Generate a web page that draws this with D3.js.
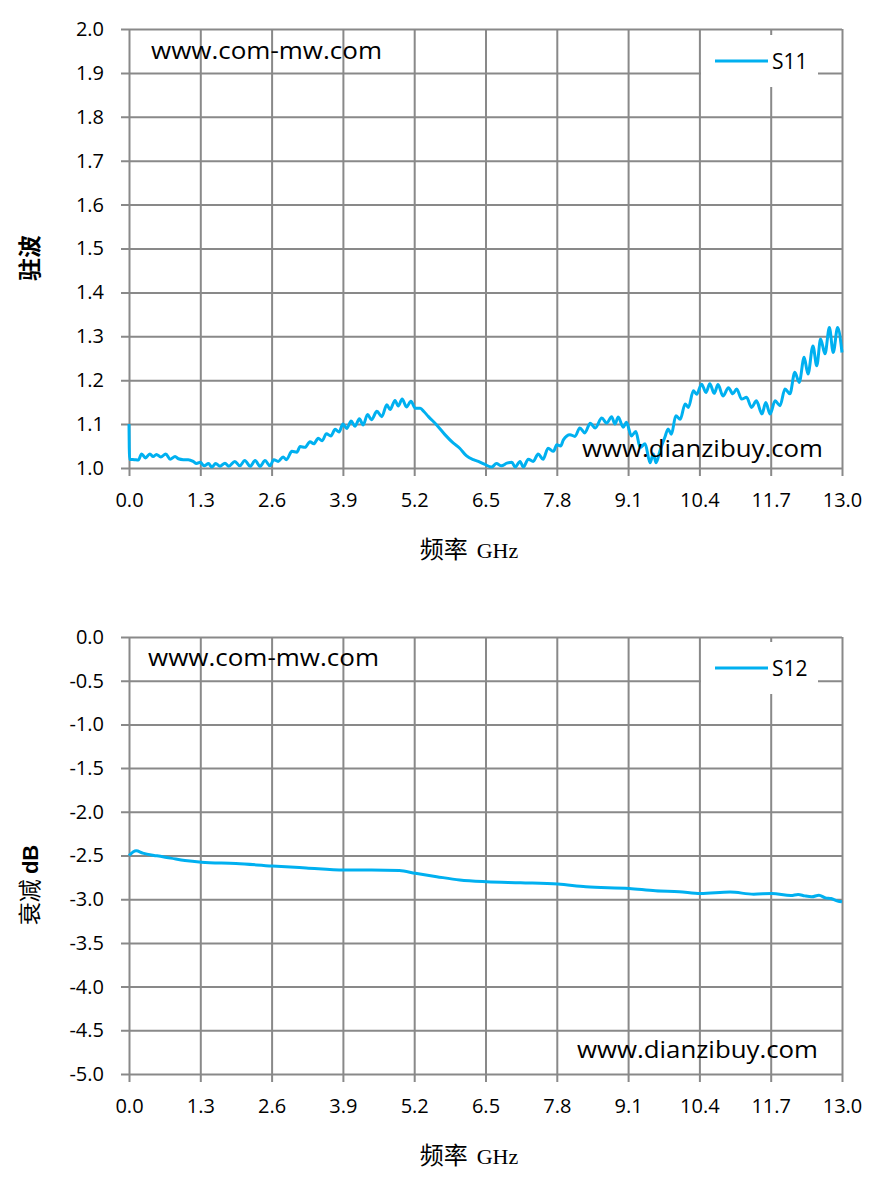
<!DOCTYPE html>
<html>
<head>
<meta charset="utf-8">
<script src="https://cdn.jsdelivr.net/npm/d3@7"></script>
<style>
  body { margin: 0; background: #fff; }
  svg { display: block; }
</style>
</head>
<body>
<div id="chart"></div>
<script>
// x tick labels shared by both panels
const xTicks = [0.0, 1.3, 2.6, 3.9, 5.2, 6.5, 7.8, 9.1, 10.4, 11.7, 13.0];

// S11 (VSWR)
const s11Freq = [0.00, 0.01, 0.10, 0.17, 0.23, 0.30, 0.38, 0.44, 0.50, 0.58, 0.67, 0.75, 0.84, 0.90, 0.99,
  1.08, 1.17, 1.23, 1.30, 1.37, 1.45, 1.51, 1.58, 1.66, 1.75, 1.82, 1.93, 2.02, 2.11, 2.21, 2.30, 2.39,
  2.48, 2.57, 2.64, 2.72, 2.81, 2.87, 2.97, 3.06, 3.12, 3.21, 3.30, 3.37, 3.45, 3.52, 3.60, 3.68, 3.76,
  3.83, 3.90, 3.97, 4.05, 4.12, 4.20, 4.27, 4.35, 4.42, 4.52, 4.61, 4.70, 4.76, 4.85, 4.91, 4.98, 5.06,
  5.14, 5.22, 5.31, 5.38, 5.46, 5.61, 5.76, 5.91, 6.03, 6.15, 6.28, 6.37, 6.49, 6.61, 6.70, 6.79, 6.89,
  6.98, 7.04, 7.13, 7.19, 7.28, 7.37, 7.46, 7.55, 7.64, 7.74, 7.80, 7.87, 7.92, 8.04, 8.13, 8.22, 8.31,
  8.41, 8.50, 8.62, 8.71, 8.80, 8.86, 8.92, 9.01, 9.07, 9.16, 9.24, 9.32, 9.41, 9.50, 9.56, 9.61, 9.68,
  9.77, 9.83, 9.89, 9.97, 10.05, 10.14, 10.20, 10.29, 10.35, 10.44, 10.52, 10.59, 10.67, 10.74, 10.83,
  10.93, 11.01, 11.08, 11.17, 11.26, 11.35, 11.44, 11.54, 11.61, 11.69, 11.78, 11.87, 11.96, 12.05,
  12.14, 12.22, 12.31, 12.38, 12.47, 12.54, 12.61, 12.69, 12.77, 12.84, 12.92, 13.00];
const s11Vswr = [1.100, 1.020, 1.019, 1.018, 1.032, 1.023, 1.032, 1.026, 1.031, 1.025, 1.032, 1.020, 1.026, 1.021, 1.019,
  1.019, 1.015, 1.010, 1.013, 1.005, 1.010, 1.002, 1.010, 1.004, 1.011, 1.004, 1.015, 1.005, 1.017, 1.004, 1.017, 1.004,
  1.017, 1.005, 1.019, 1.015, 1.025, 1.019, 1.038, 1.036, 1.049, 1.047, 1.060, 1.055, 1.068, 1.062, 1.078, 1.073, 1.088,
  1.082, 1.100, 1.090, 1.107, 1.095, 1.112, 1.098, 1.122, 1.110, 1.129, 1.117, 1.144, 1.133, 1.154, 1.141, 1.157, 1.139,
  1.152, 1.136, 1.136, 1.128, 1.117, 1.098, 1.076, 1.057, 1.045, 1.028, 1.019, 1.015, 1.008, 1.002, 1.010, 1.005, 1.011,
  1.013, 1.002, 1.015, 1.002, 1.020, 1.015, 1.032, 1.020, 1.045, 1.038, 1.053, 1.050, 1.064, 1.076, 1.072, 1.091, 1.080,
  1.102, 1.091, 1.114, 1.102, 1.117, 1.100, 1.116, 1.093, 1.104, 1.073, 1.083, 1.047, 1.055, 1.012, 1.032, 1.012, 1.039,
  1.070, 1.089, 1.077, 1.119, 1.111, 1.146, 1.138, 1.176, 1.168, 1.191, 1.172, 1.192, 1.170, 1.190, 1.164,
  1.183, 1.169, 1.180, 1.157, 1.161, 1.138, 1.153, 1.123, 1.149, 1.123, 1.153, 1.142, 1.180, 1.169,
  1.218, 1.195, 1.252, 1.214, 1.278, 1.233, 1.294, 1.260, 1.320, 1.263, 1.320, 1.263];

// S12 (insertion loss, dB)
const s12Freq = [0.00, 0.13, 0.25, 0.51, 0.76, 1.02, 1.32, 1.95, 2.61, 3.23, 3.92, 4.42, 4.93, 5.22, 5.61,
  6.03, 6.52, 7.14, 7.82, 8.33, 9.12, 9.60, 10.03, 10.42, 10.96, 11.39, 11.72, 12.07, 12.20, 12.32, 12.45,
  12.58, 12.70, 12.80, 12.92, 13.00];
const s12Db = [-2.50, -2.446, -2.473, -2.504, -2.530, -2.558, -2.577, -2.592, -2.620, -2.642, -2.665, -2.665,
  -2.673, -2.704, -2.742, -2.780, -2.800, -2.812, -2.827, -2.858, -2.877, -2.904, -2.915, -2.935, -2.919,
  -2.942, -2.935, -2.958, -2.945, -2.962, -2.973, -2.954, -2.985, -2.992, -3.020, -3.030];

const yTicksTop = [1.0, 1.1, 1.2, 1.3, 1.4, 1.5, 1.6, 1.7, 1.8, 1.9, 2.0];
const yTicksBottom = [0.0, -0.5, -1.0, -1.5, -2.0, -2.5, -3.0, -3.5, -4.0, -4.5, -5.0];

const W = 880, H = 1183;
const BLUE = '#00b0f0', GRID = '#898989';
const TICK_FONT = '"Open Sans", sans-serif';
const fmt = d => d.toFixed(1);   // plain hyphen for negatives, like the original

const svg = d3.select('#chart').append('svg')
  .attr('width', W)
  .attr('height', H);

function drawPanel(opts) {
  const { top, bottom, yDomain, yTicks, freq, vals, legend, wmTop, wmBottom } = opts;
  const left = 129, right = 842;

  const x = d3.scaleLinear().domain([0, 13]).range([left, right]);
  const y = d3.scaleLinear().domain(yDomain).range([bottom, top]);

  const g = svg.append('g');

  // horizontal gridlines + y labels
  const yAxis = g.append('g')
    .attr('transform', `translate(${left - 8},0)`)
    .call(d3.axisLeft(y).tickValues(yTicks).tickSize(-(right - left + 8)).tickPadding(17)
      .tickFormat(fmt));
  yAxis.select('.domain').remove();

  // vertical gridlines + x labels
  const xAxis = g.append('g')
    .attr('transform', `translate(0,${bottom + 8})`)
    .call(d3.axisBottom(x).tickValues(xTicks).tickSize(-(bottom - top + 8)).tickPadding(17)
      .tickFormat(fmt));
  xAxis.select('.domain').remove();

  g.selectAll('.tick line').attr('stroke', GRID).attr('stroke-width', 2);
  g.selectAll('.tick text')
    .attr('fill', '#000')
    .style('font-family', TICK_FONT)
    .style('font-size', '20px');

  // watermarks
  g.append('text')
    .attr('x', wmTop[0]).attr('y', wmTop[1])
    .attr('textLength', 231).attr('lengthAdjust', 'spacingAndGlyphs')
    .style('font-family', TICK_FONT).style('font-size', '23px')
    .text('www.com-mw.com');

  // curve
  const pts = freq.map((f, i) => [f, vals[i]]);
  const line = d3.line()
    .x(d => x(d[0]))
    .y(d => y(d[1]))
    .curve(d3.curveMonotoneX);
  g.append('path')
    .datum(pts)
    .attr('fill', 'none')
    .attr('stroke', BLUE)
    .attr('stroke-width', 3)
    .attr('stroke-linejoin', 'round')
    .attr('d', line);

  g.append('text')
    .attr('x', wmBottom[0]).attr('y', wmBottom[1])
    .attr('textLength', 241).attr('lengthAdjust', 'spacingAndGlyphs')
    .style('font-family', TICK_FONT).style('font-size', '23px')
    .text('www.dianzibuy.com');

  // legend
  const lg = g.append('g').attr('transform', `translate(701,${legend.y})`);
  lg.append('rect')
    .attr('x', 0).attr('y', -26)
    .attr('width', 117).attr('height', 52)
    .attr('fill', '#fff');
  lg.append('line')
    .attr('x1', 14).attr('x2', 67)
    .attr('y1', 0).attr('y2', 0)
    .attr('stroke', BLUE).attr('stroke-width', 3);
  lg.append('text')
    .attr('x', 71).attr('y', 8)
    .style('font-family', TICK_FONT).style('font-size', '21px')
    .text(legend.label);

  // x title
  const xt = g.append('text')
    .attr('x', 469).attr('y', bottom + 90)
    .attr('text-anchor', 'middle');
  xt.append('tspan').style('font-family', '"Noto Sans CJK SC", sans-serif').style('font-size', '24px').text('频率');
  xt.append('tspan').attr('dx', 9).style('font-family', '"Liberation Serif", serif').style('font-size', '22px').text('GHz');

  return g;
}

drawPanel({
  top: 29, bottom: 468,
  yDomain: [1.0, 2.0], yTicks: yTicksTop,
  freq: s11Freq, vals: s11Vswr,
  legend: { y: 61, label: 'S11' },
  wmTop: [151, 59], wmBottom: [582, 457]
});

drawPanel({
  top: 637, bottom: 1074,
  yDomain: [-5.0, 0.0], yTicks: yTicksBottom,
  freq: s12Freq, vals: s12Db,
  legend: { y: 668, label: 'S12' },
  wmTop: [148, 666], wmBottom: [577, 1058]
});

// y titles
svg.append('text')
  .attr('transform', 'translate(38,258) rotate(-90)')
  .attr('text-anchor', 'middle')
  .style('font-family', '"Noto Sans CJK SC", sans-serif')
  .style('font-size', '23px')
  .style('font-weight', 'bold')
  .text('驻波');

const yt2 = svg.append('text')
  .attr('transform', 'translate(38,885) rotate(-90)')
  .attr('text-anchor', 'middle')
  .style('font-size', '22px');
yt2.append('tspan').style('font-family', '"Noto Sans CJK SC", sans-serif').style('font-size', '23px').text('衰减 ');
yt2.append('tspan').style('font-family', '"Liberation Sans", sans-serif').style('font-weight', 'bold').text('dB');
</script>
</body>
</html>
